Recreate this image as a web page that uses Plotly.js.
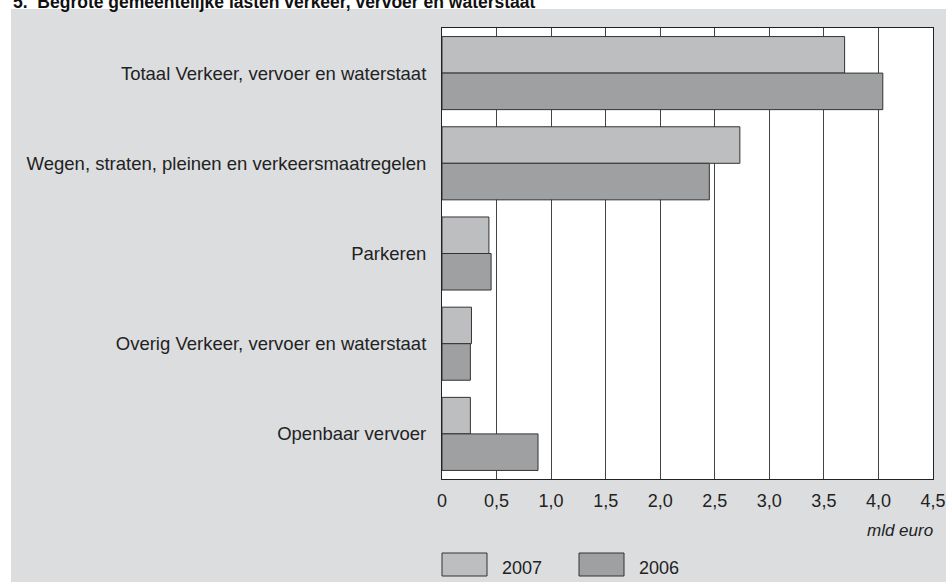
<!DOCTYPE html>
<html>
<head>
<meta charset="utf-8">
<script src="https://cdn.plot.ly/plotly-3.0.1.min.js"></script>
<style>html,body{margin:0;padding:0;background:#fff;}#chart{width:946px;height:582px;}</style>
</head>
<body>
<div id="chart"></div>
<script>
const categories = [
  "Totaal Verkeer, vervoer en waterstaat",
  "Wegen, straten, pleinen en verkeersmaatregelen",
  "Parkeren",
  "Overig Verkeer, vervoer en waterstaat",
  "Openbaar vervoer"
];
const seriesNames = ["2007", "2006"];
const values2007 = [3.69, 2.73, 0.43, 0.27, 0.26];
const values2006 = [4.04, 2.45, 0.45, 0.26, 0.88];
const tickVals = [0, 0.5, 1, 1.5, 2, 2.5, 3, 3.5, 4, 4.5];
const tickText = ["0", "0,5", "1,0", "1,5", "2,0", "2,5", "3,0", "3,5", "4,0", "4,5"];
const titleText = "5.  Begrote gemeentelijke lasten verkeer, vervoer en waterstaat";
const unitText = "mld euro";

const W = 946, H = 582;
const M = {l: 442, r: 13, t: 28, b: 103};
const pw = W - M.l - M.r, ph = H - M.t - M.b;
const px = x => (x - M.l) / pw;
const py = y => (H - M.b - y) / ph;

const colors = ["#bdbec0", "#9fa0a2"];
const font = "Liberation Sans, Arial, sans-serif";

const traces = [values2007, values2006].map((v, i) => ({
  type: "bar",
  orientation: "h",
  name: seriesNames[i],
  x: v,
  y: categories,
  marker: {color: colors[i], line: {color: "#333", width: 1}},
  showlegend: false,
  hoverinfo: "skip"
}));

const shapes = [
  {type: "rect", xref: "paper", yref: "paper", x0: px(0), x1: px(W), y0: py(9), y1: py(0), fillcolor: "#fff", line: {width: 0}, layer: "below"},
  {type: "rect", xref: "paper", yref: "paper", x0: px(0), x1: px(11), y0: py(H), y1: py(0), fillcolor: "#fff", line: {width: 0}, layer: "below"}
];
const annotations = [
  {xref: "paper", yref: "paper", x: px(11), y: py(2), xanchor: "left", yanchor: "middle", text: "<b>" + titleText + "</b>", showarrow: false, font: {family: font, size: 17.5, color: "#111"}},
  {xref: "paper", yref: "paper", x: px(935), y: py(530), xanchor: "right", yanchor: "middle", text: "<i>" + unitText + "</i>", showarrow: false, font: {family: font, size: 17, color: "#222"}}
];
const legX = [442, 579];
seriesNames.forEach((n, i) => {
  shapes.push({type: "rect", xref: "paper", yref: "paper", x0: px(legX[i]), x1: px(legX[i] + 45), y0: py(576), y1: py(553), fillcolor: colors[i], line: {color: "#333", width: 1}});
  annotations.push({xref: "paper", yref: "paper", x: px(legX[i] + 58), y: py(568), xanchor: "left", yanchor: "middle", text: n, showarrow: false, font: {family: font, size: 18, color: "#222"}});
});

const layout = {
  width: W, height: H,
  margin: M,
  paper_bgcolor: "#dcdddf",
  plot_bgcolor: "#ffffff",
  barmode: "group",
  bargap: 0.19,
  bargroupgap: 0,
  font: {family: font, size: 18, color: "#222"},
  xaxis: {
    range: [0, 4.5],
    tickvals: tickVals, ticktext: tickText,
    showgrid: true, gridcolor: "#444", gridwidth: 1,
    zeroline: false,
    showline: true, mirror: true, linecolor: "#222", linewidth: 1,
    ticks: "", ticklabelstandoff: 5,
    tickfont: {family: font, size: 18, color: "#222"},
    fixedrange: true
  },
  yaxis: {
    type: "category",
    categoryorder: "array", categoryarray: categories,
    autorange: "reversed",
    showgrid: false, zeroline: false,
    showline: true, mirror: true, linecolor: "#222", linewidth: 1,
    ticks: "", ticklabelstandoff: 11,
    tickfont: {family: font, size: 18.5, color: "#222"},
    fixedrange: true
  },
  shapes: shapes,
  annotations: annotations,
  showlegend: false
};

Plotly.newPlot("chart", traces, layout, {staticPlot: true, displayModeBar: false});
</script>
</body>
</html>
